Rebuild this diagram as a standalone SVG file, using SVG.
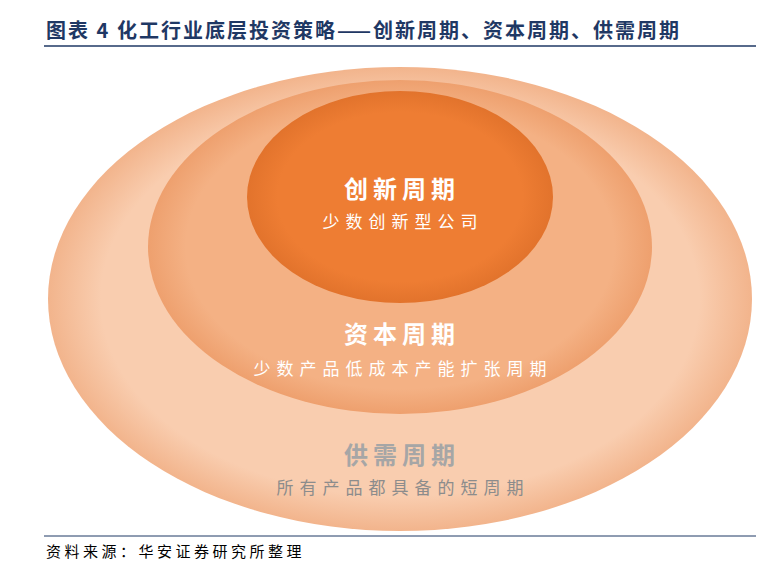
<svg xmlns="http://www.w3.org/2000/svg" width="778" height="578" viewBox="0 0 778 578">
<style>
.t{font-family:"Noto Sans CJK SC","Noto Sans",sans-serif}
.h{font-size:24px;font-weight:bold;letter-spacing:5px}
.s{font-size:17px;letter-spacing:6px}
</style>
<defs>
<radialGradient id="g1" cx="50%" cy="50%" r="50%"><stop offset="0.85" stop-color="#F9CDAF"/><stop offset="1" stop-color="#F2B48C"/></radialGradient>
<radialGradient id="g2" cx="50%" cy="50%" r="50%"><stop offset="0.85" stop-color="#F4B184"/><stop offset="1" stop-color="#EEA06E"/></radialGradient>
<radialGradient id="g3" cx="50%" cy="50%" r="50%"><stop offset="0.8" stop-color="#EE7D33"/><stop offset="1" stop-color="#E2732C"/></radialGradient>
</defs>
<rect width="778" height="578" fill="#fff"/>
<text class="t" x="46" y="38" font-size="20" font-weight="bold" letter-spacing="2" fill="#1F3864">图表 4 化工行业底层投资策略——创新周期、资本周期、供需周期</text>
<line x1="44" y1="46" x2="756" y2="46" stroke="#1F3864" stroke-width="1.5"/>
<g id="outer"><ellipse cx="400" cy="299" rx="352" ry="232" fill="url(#g1)"/>
<text class="t h" x="402" y="464" text-anchor="middle" fill="#A6A6A6">供需周期</text>
<text class="t s" x="403" y="494" text-anchor="middle" fill="#8C8C8C">所有产品都具备的短周期</text></g>
<g id="middle"><ellipse cx="400" cy="247" rx="252" ry="167" fill="url(#g2)"/>
<text class="t h" x="402" y="343" text-anchor="middle" fill="#fff">资本周期</text>
<text class="t s" x="403" y="375" text-anchor="middle" fill="#fff">少数产品低成本产能扩张周期</text></g>
<g id="inner"><ellipse cx="400" cy="197" rx="153" ry="106" fill="url(#g3)"/>
<text class="t h" x="402" y="198" text-anchor="middle" fill="#fff">创新周期</text>
<text class="t s" x="403" y="228" text-anchor="middle" fill="#fff">少数创新型公司</text></g>
<g id="connectors"/>
<line x1="44" y1="536" x2="756" y2="536" stroke="#1F3864" stroke-width="1"/>
<text class="t" x="46" y="557" font-size="15" letter-spacing="3.5" fill="#000">资料来源：华安证券研究所整理</text>
</svg>
